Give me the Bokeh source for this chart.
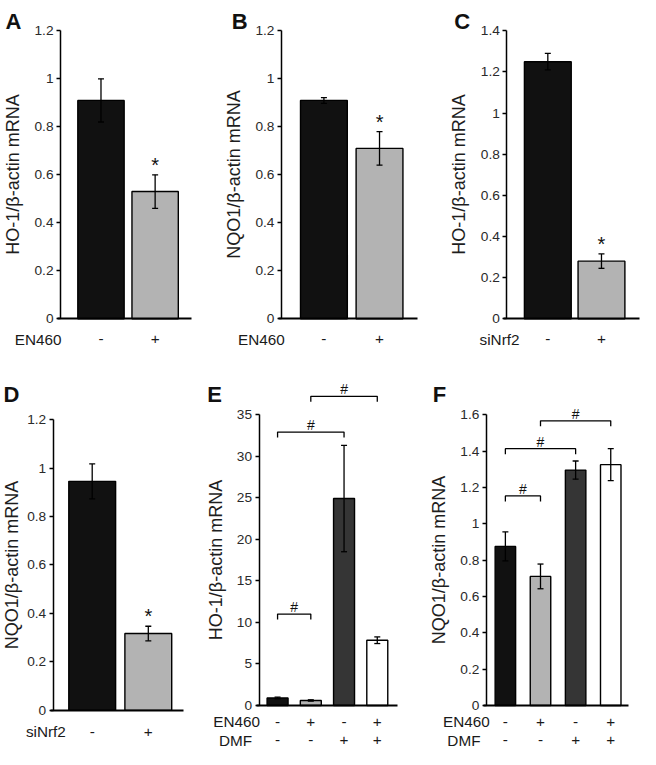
from bokeh.plotting import figure
from bokeh.models import (Range1d, FixedTicker, PrintfTickFormatter, Label, LabelSet,
                          Whisker, TeeHead, ColumnDataSource)
from bokeh.layouts import row, column
from bokeh.embed import file_html
from bokeh.resources import INLINE
from bokeh.core.properties import value

# ---------------- data ----------------
A_vals = [0.91, 0.53]
A_err = [0.09, 0.07]
B_vals = [0.91, 0.71]
B_err = [0.012, 0.07]
C_vals = [1.25, 0.28]
C_err = [0.04, 0.035]
D_vals = [0.945, 0.317]
D_err = [0.072, 0.03]
E_vals = [0.9, 0.6, 24.9, 7.85]
E_err = [0.1, 0.08, 6.4, 0.4]
F_vals = [0.875, 0.71, 1.295, 1.325]
F_err = [0.08, 0.068, 0.05, 0.088]

EN460_2 = ["-", "+"]
siNrf2_2 = ["-", "+"]
EN460_4 = ["-", "+", "-", "+"]
DMF_4 = ["-", "-", "+", "+"]

star_2 = [False, True]

E_pairs = [(1, 2), (1, 3), (2, 4)]
E_bracket_h = [11.0, 32.9, 37.2]
F_pairs = [(1, 2), (1, 3), (2, 4)]
F_bracket_h = [1.153, 1.413, 1.566]

ticks_12 = [0, 0.2, 0.4, 0.6, 0.8, 1, 1.2]
ticks_14 = [0, 0.2, 0.4, 0.6, 0.8, 1, 1.2, 1.4]
ticks_16 = [0, 0.2, 0.4, 0.6, 0.8, 1, 1.2, 1.4, 1.6]
ticks_35 = [0, 5, 10, 15, 20, 25, 30, 35]

COLORS_2 = ["#111111", "#b3b3b3"]
COLORS_4 = ["#111111", "#b3b3b3", "#353535", "#ffffff"]

# ---------------- layout (reference pixel geometry) ----------------
SX = 640 / 656
SY = 749 / 765
COLS = [0, 210, 430, 656]
ROWS = [0, 380, 765]
FONT = "Liberation Sans"
XLAB_SIZE = "15.3px"

LAYOUT = {
    "A": dict(col=0, row=0, L=61.5, R=196, Ttick=31, B=325, c1=103, cn=158.5, bw=47.5,
              letter=(5, 21), rows=[(346, 38.5)], ls=8),
    "B": dict(col=1, row=0, L=288, R=427, Ttick=31, B=325, c1=331.5, cn=388.5, bw=48,
              letter=(237, 21), rows=[(346, 267.5)], ls=8),
    "C": dict(col=2, row=0, L=519, R=655, Ttick=31, B=325, c1=561, cn=616, bw=48,
              letter=(465, 21), rows=[(346, 511.5)], ls=8),
    "D": dict(col=0, row=1, L=54, R=188, Ttick=428, B=725, c1=94, cn=151.5, bw=48,
              letter=(3, 402), rows=[(747, 46.5)], ls=2),
    "E": dict(col=1, row=1, L=265, R=407, Ttick=423, B=720, c1=284, cn=386.2, bw=21.5,
              letter=(212, 402), rows=[(736.5, 242), (755.5, 241)], ls=8),
    "F": dict(col=2, row=1, L=498, R=644, Ttick=423, B=720, c1=517.5, cn=625.5, bw=21,
              letter=(443, 402), rows=[(736.5, 477.5), (755.5, 475)], ls=8),
}


def make_panel(letter, vals, errs, colors, row_names, row_labels, ylabel, yticks,
               stars=None, pairs=None, heights=None):
    s = LAYOUT[letter]
    cx0 = round(COLS[s["col"]] * SX)
    cx1 = round(COLS[s["col"] + 1] * SX)
    ry0 = round(ROWS[s["row"]] * SY)
    ry1 = round(ROWS[s["row"] + 1] * SY)
    W, H = cx1 - cx0, ry1 - ry0
    n = len(vals)

    def fx(rx):  # reference x -> figure px
        return rx * SX - cx0

    def fy(ry):  # reference y -> figure px (from top)
        return ry * SY - ry0

    c1, cn = fx(s["c1"]), fx(s["cn"])
    unit = (cn - c1) / (n - 1)
    fb = fy(s["B"])
    ppu = (fb - fy(s["Ttick"])) / yticks[-1]

    def dx(px):
        return 1 + (px - c1) / unit

    def dy(py):
        return (fb - py) / ppu

    p = figure(width=W, height=H, x_range=Range1d(dx(0), dx(W)),
               y_range=Range1d(dy(H), dy(0)),
               output_backend="svg", toolbar_location=None,
               min_border_left=0, min_border_right=0,
               min_border_top=0, min_border_bottom=0)
    p.outline_line_color = None
    p.grid.visible = False
    p.background_fill_color = "white"
    p.border_fill_color = "white"

    ya = p.yaxis[0]
    ya.fixed_location = dx(fx(s["L"]))
    ya.ticker = FixedTicker(ticks=yticks)
    ya.formatter = PrintfTickFormatter(format="%g")
    ya.bounds = (0, yticks[-1])
    ya.major_tick_out = 4
    ya.major_tick_in = 0
    ya.minor_tick_line_color = None
    ya.axis_line_width = 1.5
    ya.major_tick_line_width = 1.5
    ya.major_label_standoff = 3
    ya.major_label_text_font = FONT
    ya.major_label_text_font_size = "13.7px"
    ya.major_label_text_color = "#2a2a2a"
    ya.axis_label = ylabel
    ya.axis_label_text_font = FONT
    ya.axis_label_text_font_size = "18px"
    ya.axis_label_text_font_style = "normal"
    ya.axis_label_text_color = "#1e1e1e"
    ya.axis_label_standoff = s["ls"]

    xa = p.xaxis[0]
    xa.fixed_location = 0
    xa.bounds = (dx(fx(s["L"]) - 3), dx(fx(s["R"])))
    xa.ticker = FixedTicker(ticks=[])
    xa.axis_line_width = 2
    xa.major_tick_line_color = None
    xa.minor_tick_line_color = None
    xa.major_label_text_font_size = "0px"

    xs = list(range(1, n + 1))
    src = ColumnDataSource(dict(
        x=xs, top=vals,
        upper=[v + e for v, e in zip(vals, errs)],
        lower=[v - e for v, e in zip(vals, errs)],
        color=colors))
    p.vbar(x="x", top="top", bottom=0, width=s["bw"] * SX / unit, fill_color="color",
           line_color="black", line_width=1.4, source=src)
    p.add_layout(Whisker(source=src, base="x", upper="upper", lower="lower",
                         line_width=1.3, line_color="black", level="annotation",
                         upper_head=TeeHead(size=6, line_width=1.3),
                         lower_head=TeeHead(size=6, line_width=1.3)))

    # significance asterisks
    if stars is not None:
        sx_ = [x for x, st in zip(xs, stars) if st]
        sy_ = [v + e + 3 / ppu for v, e, st in zip(vals, errs, stars) if st]
        ssrc = ColumnDataSource(dict(x=sx_, y=sy_, t=["*"] * len(sx_)))
        p.add_layout(LabelSet(x="x", y="y", text="t", source=ssrc, text_align="center",
                              text_baseline="alphabetic", text_font=value(FONT),
                              text_font_size=value("20px"), text_color="#111111"))

    # brackets
    if pairs is not None:
        leg = 5.5 / ppu
        bxs = [[a, a, b, b] for a, b in pairs]
        bys = [[h - leg, h, h, h - leg] for h in heights]
        p.multi_line(xs=bxs, ys=bys, line_color="black", line_width=1.3)
        hsrc = ColumnDataSource(dict(x=[(a + b) / 2 for a, b in pairs],
                                     y=[h + 2 / ppu for h in heights],
                                     t=["#"] * len(pairs)))
        p.add_layout(LabelSet(x="x", y="y", text="t", source=hsrc, text_align="center",
                              text_baseline="alphabetic", text_font=value(FONT),
                              text_font_size=value("14px"), text_color="#111111"))

    # x category rows
    for (ry, rcx), name, labs in zip(s["rows"], row_names, row_labels):
        yy = dy(fy(ry))
        lsrc = ColumnDataSource(dict(x=xs, y=[yy] * n, t=labs))
        p.add_layout(LabelSet(x="x", y="y", text="t", source=lsrc, text_align="center",
                              text_baseline="middle", text_font=value(FONT),
                              text_font_size=value(XLAB_SIZE), text_color="#1a1a1a"))
        p.add_layout(Label(x=dx(fx(rcx)), y=yy, text=name, text_align="center",
                           text_baseline="middle", text_font=FONT,
                           text_font_size=XLAB_SIZE, text_color="#1a1a1a"))

    # panel letter
    lx, ly = s["letter"]
    p.add_layout(Label(x=dx(fx(lx)), y=dy(fy(ly)), text=letter, text_align="left",
                       text_baseline="alphabetic", text_font=FONT,
                       text_font_size="22px", text_font_style="bold", text_color="#111111"))
    return p


pA = make_panel("A", A_vals, A_err, COLORS_2, ["EN460"], [EN460_2],
                "HO-1/β-actin mRNA", ticks_12, stars=star_2)
pB = make_panel("B", B_vals, B_err, COLORS_2, ["EN460"], [EN460_2],
                "NQO1/β-actin mRNA", ticks_12, stars=star_2)
pC = make_panel("C", C_vals, C_err, COLORS_2, ["siNrf2"], [siNrf2_2],
                "HO-1/β-actin mRNA", ticks_14, stars=star_2)
pD = make_panel("D", D_vals, D_err, COLORS_2, ["siNrf2"], [siNrf2_2],
                "NQO1/β-actin mRNA", ticks_12, stars=star_2)
pE = make_panel("E", E_vals, E_err, COLORS_4, ["EN460", "DMF"], [EN460_4, DMF_4],
                "HO-1/β-actin mRNA", ticks_35, pairs=E_pairs, heights=E_bracket_h)
pF = make_panel("F", F_vals, F_err, COLORS_4, ["EN460", "DMF"], [EN460_4, DMF_4],
                "NQO1/β-actin mRNA", ticks_16, pairs=F_pairs, heights=F_bracket_h)

layout = column(row(pA, pB, pC), row(pD, pE, pF))
open("out.html", "w").write(file_html(layout, INLINE))
